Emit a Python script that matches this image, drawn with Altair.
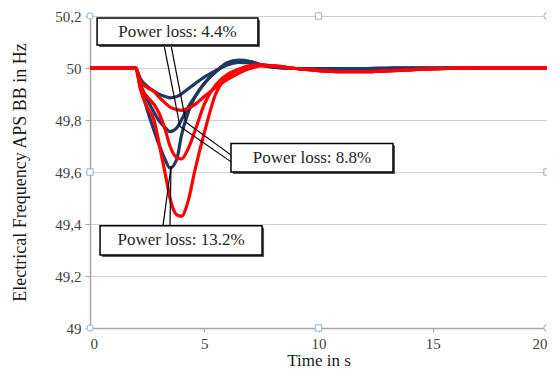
import altair as alt
import pandas as pd

# Time axis (s)
time_s = [0, 2, 2.2, 2.5, 2.8, 3.0, 3.3, 3.5, 3.8, 4.0, 4.3, 4.6, 5.0, 5.5, 6.0, 6.5,
          7.0, 7.5, 8, 9, 10, 11, 12, 13, 14, 15, 17, 20]

# Blue curves (frequency in Hz)
blue_44 = [50, 50, 49.96, 49.93, 49.91, 49.90, 49.89, 49.885, 49.89, 49.90, 49.92, 49.94,
           49.965, 49.99, 50.012, 50.022, 50.02, 50.01, 50.003, 49.998, 49.997, 49.998,
           49.998, 49.999, 50, 50, 50, 50]
blue_88 = [50, 50, 49.94, 49.88, 49.83, 49.80, 49.77, 49.755, 49.77, 49.80, 49.85, 49.89,
           49.94, 49.985, 50.015, 50.028, 50.025, 50.012, 50.004, 49.998, 49.997, 49.998,
           49.998, 49.999, 50, 50, 50, 50]
blue_132 = [50, 50, 49.93, 49.84, 49.76, 49.71, 49.645, 49.615, 49.65, 49.74, 49.83, 49.89,
            49.94, 49.985, 50.02, 50.03, 50.025, 50.012, 50.004, 49.998, 49.997, 49.998,
            49.998, 49.999, 50, 50, 50, 50]

# Red curves (frequency in Hz)
red_44 = [50, 50, 49.95, 49.925, 49.91, 49.89, 49.865, 49.85, 49.84, 49.837, 49.845, 49.86,
          49.89, 49.925, 49.955, 49.98, 49.998, 50.008, 50.008, 49.998, 49.99, 49.986,
          49.986, 49.989, 49.993, 49.997, 50, 50]
red_88 = [50, 50, 49.93, 49.89, 49.86, 49.83, 49.76, 49.70, 49.655, 49.65, 49.69, 49.76,
          49.86, 49.935, 49.975, 49.995, 50.008, 50.012, 50.008, 49.998, 49.99, 49.986,
          49.986, 49.989, 49.993, 49.997, 50, 50]
red_132 = [50, 50, 49.92, 49.85, 49.80, 49.72, 49.59, 49.50, 49.435, 49.43, 49.49, 49.61,
           49.75, 49.90, 49.965, 49.993, 50.008, 50.012, 50.008, 49.998, 49.99, 49.986,
           49.986, 49.989, 49.993, 49.997, 50, 50]

series = {
    "blue 4.4": blue_44, "blue 8.8": blue_88, "blue 13.2": blue_132,
    "red 4.4": red_44, "red 8.8": red_88, "red 13.2": red_132,
}
series_colors = ["#1f3864", "#1f3864", "#1f3864", "#ff0000", "#ff0000", "#ff0000"]

rows = []
for order, (name, vals) in enumerate(series.items()):
    for t, f in zip(time_s, vals):
        rows.append({"t": t, "f": f, "s": name, "o": order})
df = pd.DataFrame(rows)

# Callout boxes
box_text = ["Power loss: 4.4%", "Power loss: 8.8%", "Power loss: 13.2%"]
box_x1 = [0.31, 6.17, 0.44]
box_x2 = [7.35, 13.26, 7.53]
box_y1 = [50.192, 49.71, 49.393]
box_y2 = [50.088, 49.60, 49.281]
boxes = pd.DataFrame({"text": box_text, "x": box_x1, "x2": box_x2, "y": box_y1, "y2": box_y2})
boxes["tx"] = (boxes["x"] + boxes["x2"]) / 2
boxes["ty"] = (boxes["y"] + boxes["y2"]) / 2

# Leader lines of the callouts
lead_x1 = [3.24, 3.545, 6.21, 6.21, 3.195, 3.50]
lead_y1 = [50.088, 50.088, 49.663, 49.637, 49.393, 49.393]
lead_x2 = [3.94, 4.20, 4.20, 3.94, 3.545, 3.545]
lead_y2 = [49.775, 49.791, 49.791, 49.775, 49.621, 49.621]
leads = pd.DataFrame({"x": lead_x1, "y": lead_y1, "x2": lead_x2, "y2": lead_y2})

# Selection handles (frame corners / midpoints)
handle_t = [0, 20, 0, 20, 10, 0, 20, 10]
handle_f = [50.2, 50.2, 49, 49, 50.2, 49.6, 49.6, 49]
handle_shape = ["circle"] * 4 + ["square"] * 4
handles = pd.DataFrame({"t": handle_t, "f": handle_f, "shape": handle_shape})

FONT = "'Liberation Serif', 'Times New Roman', 'DejaVu Serif', serif"
xs = alt.Scale(domain=[0, 20], nice=False, zero=False)
ys = alt.Scale(domain=[49, 50.2], nice=False, zero=False)

lines = alt.Chart(df).mark_line(strokeWidth=3.2, interpolate="monotone").encode(
    x=alt.X("t:Q", scale=xs, title="Time in s",
            axis=alt.Axis(values=[0, 5, 10, 15, 20], grid=False, tickSize=4,
                          labelPadding=4)),
    y=alt.Y("f:Q", scale=ys, title="Electrical Frequency APS BB in Hz",
            axis=alt.Axis(values=[49, 49.2, 49.4, 49.6, 49.8, 50, 50.2], grid=True,
                          tickSize=5, labelPadding=4,
                          labelExpr="replace(toString(round(datum.value*10)/10), '.', ',')")),
    color=alt.Color("s:N", scale=alt.Scale(domain=list(series.keys()), range=series_colors),
                    legend=None),
    detail="s:N",
    order="o:Q",
)

leader = alt.Chart(leads).mark_rule(color="black", strokeWidth=1.2).encode(
    x="x:Q", y="y:Q", x2="x2:Q", y2="y2:Q"
)

shadow = alt.Chart(boxes).mark_rect(
    fill="#555555", xOffset=2, x2Offset=2, yOffset=2, y2Offset=2
).encode(x="x:Q", x2="x2:Q", y="y:Q", y2="y2:Q")

box = alt.Chart(boxes).mark_rect(fill="white", stroke="black", strokeWidth=1.5).encode(
    x="x:Q", x2="x2:Q", y="y:Q", y2="y2:Q"
)

txt = alt.Chart(boxes).mark_text(font=FONT, fontSize=17, color="#262626").encode(
    x="tx:Q", y="ty:Q", text="text:N"
)

hand = alt.Chart(handles).mark_point(
    filled=True, fill="white", stroke="#8fb4cf", strokeWidth=1, size=40, opacity=1
).encode(
    x="t:Q", y="f:Q",
    shape=alt.Shape("shape:N", scale=alt.Scale(domain=["circle", "square"],
                                               range=["circle", "square"]), legend=None),
)

chart = alt.layer(lines, leader, shadow, box, txt, hand).properties(
    width=457, height=312,
    autosize=alt.AutoSizeParams(type="none"),
    padding={"left": 82, "top": 8, "right": 0, "bottom": 42},
    background="white",
).configure_view(
    stroke="#bfbfbf", strokeWidth=1
).configure_axis(
    labelFont=FONT, titleFont=FONT, labelFontSize=15, titleFontSize=17,
    labelColor="#404040", titleColor="#1a1a1a", titleFontWeight="normal",
    domainColor="#a6a6a6", tickColor="#a6a6a6", gridColor="#cfcfcf",
    domainWidth=1.5,
).configure_axisY(
    titlePadding=25, titleFontSize=18,
).configure_axisX(
    titlePadding=1,
)

chart.save("out.html", embed_options={"renderer": "svg", "actions": False})
